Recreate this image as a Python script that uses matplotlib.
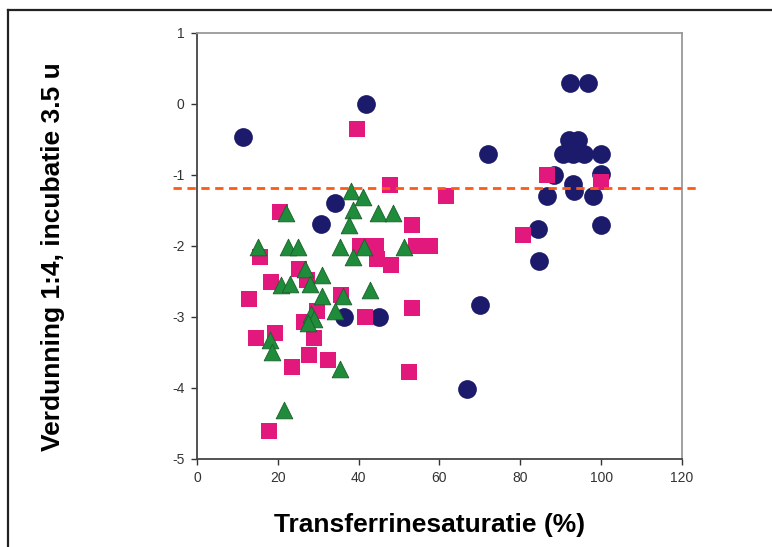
import matplotlib
matplotlib.use("Agg")
import matplotlib.pyplot as plt
from matplotlib.lines import Line2D

plt.rcParams['font.family'] = ['Liberation Sans', 'DejaVu Sans']
plt.rcParams['axes.unicode_minus'] = False

# group 1 (navy circles)
circle_x = [11.5, 41.7, 34.2, 30.7, 36.4, 45.1, 71.9, 70.1, 66.8, 84.3, 84.5, 86.5, 88.3,
            92.3, 96.7, 92.0, 94.2, 90.6, 93.1, 95.7, 100, 100, 93.1, 93.3, 98.1, 100]
circle_y = [-0.46, 0.0, -1.39, -1.69, -3.0, -3.0, -0.70, -2.83, -4.01, -1.76, -2.21, -1.30, -1.0,
            0.29, 0.29, -0.51, -0.51, -0.70, -0.70, -0.70, -0.70, -0.99, -1.13, -1.23, -1.30, -1.70]

# group 2 (magenta squares)
square_x = [39.5, 47.7, 61.6, 53.2, 80.6, 86.5, 100, 20.6, 15.6, 12.8, 14.5, 18.2, 19.2, 17.9,
            23.5, 27.6, 32.3, 29.0, 25.2, 27.2, 26.4, 29.6, 35.6, 41.6, 40.3, 44.3, 44.6, 48.0,
            54.3, 57.7, 53.2, 52.4]
square_y = [-0.35, -1.14, -1.30, -1.70, -1.85, -1.0, -1.10, -1.52, -2.15, -2.74, -3.30, -2.51,
            -3.23, -4.60, -3.70, -3.54, -3.60, -3.30, -2.33, -2.48, -3.07, -2.91, -2.69, -3.0,
            -2.0, -2.0, -2.18, -2.27, -2.0, -2.0, -2.88, -3.78]

# group 3 (green triangles)
tri_x = [38.2, 41.1, 38.5, 37.6, 22.0, 44.7, 48.4, 15.0, 22.4, 24.9, 35.4, 41.2, 51.1, 38.5,
         26.7, 30.9, 20.9, 23.0, 27.9, 31.0, 36.0, 42.8, 34.2, 28.2, 28.9, 27.4, 18.0, 18.6,
         35.5, 21.6]
tri_y = [-1.22, -1.31, -1.49, -1.71, -1.54, -1.54, -1.54, -2.01, -2.01, -2.01, -2.01, -2.01,
         -2.01, -2.16, -2.32, -2.41, -2.55, -2.54, -2.53, -2.71, -2.71, -2.62, -2.91, -2.96,
         -3.03, -3.08, -3.33, -3.49, -3.73, -4.31]

cutoff = -1.18
x_ticks = [0, 20, 40, 60, 80, 100, 120]
y_ticks = [1, 0, -1, -2, -3, -4, -5]

fig = plt.figure(figsize=(7.72, 5.47), dpi=100)
ax = fig.add_axes([0.2552, 0.1609, 0.6282, 0.7788])

ax.scatter(circle_x, circle_y, s=13.5**2, marker='o', color='#1c1a6b', linewidths=0, zorder=3)
ax.scatter(square_x, square_y, s=11.3**2, marker='s', color='#e3187c', linewidths=0, zorder=4)
ax.scatter(tri_x, tri_y, s=12**2, marker='^', color='#1f8c3b', edgecolors='#1b5e2a',
           linewidths=0.6, zorder=5)

# threshold line runs a bit past both axes
ax.plot([-6, 124], [cutoff, cutoff], color='#ff5a14', lw=2.0, ls=(0, (3, 2)),
        clip_on=False, zorder=6)

ax.set_xlim(0, 120)
ax.set_ylim(-5, 1)
ax.set_xticks(x_ticks)
ax.set_yticks(y_ticks)
ax.tick_params(labelsize=10, colors='#333333', length=4, width=1, pad=5)

for side in ['left', 'bottom']:
    ax.spines[side].set_color('#444444')
    ax.spines[side].set_linewidth(1.3)
for side in ['top', 'right']:
    ax.spines[side].set_color('#999999')
    ax.spines[side].set_linewidth(1.3)

fig.text(0.556, 0.040, 'Transferrinesaturatie (%)', fontsize=19, fontweight='bold',
         ha='center', va='center')
fig.text(0.0687, 0.530, 'Verdunning 1:4, incubatie 3.5 u', fontsize=19, fontweight='bold',
         rotation=90, ha='center', va='center')

# border of the original frame (left and top only)
fig.add_artist(Line2D([0.0104, 0.0104], [0, 0.9817], color='#222222', lw=1.6))
fig.add_artist(Line2D([0.0104, 1.0], [0.9817, 0.9817], color='#222222', lw=1.6))

fig.savefig('out.png', dpi=100)
